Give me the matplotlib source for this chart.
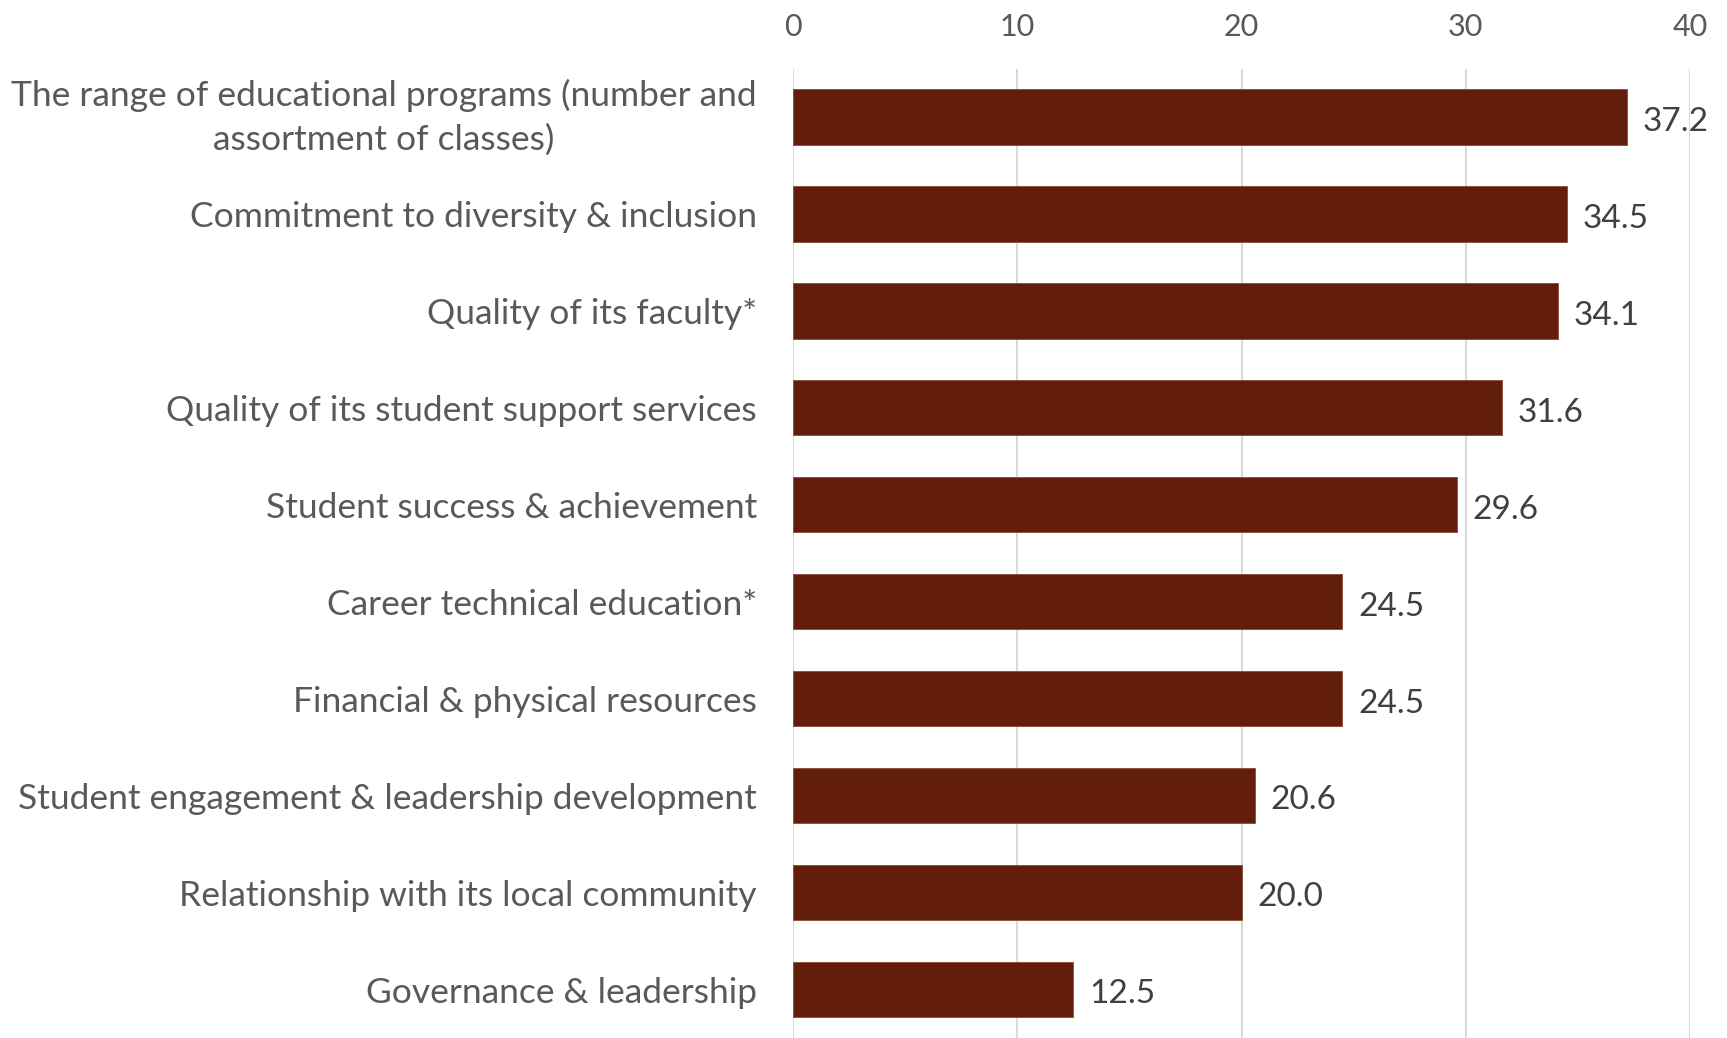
import matplotlib.pyplot as plt

categories = [
    "The range of educational programs (number and\nassortment of classes)",
    "Commitment to diversity & inclusion",
    "Quality of its faculty*",
    "Quality of its student support services",
    "Student success & achievement",
    "Career technical education*",
    "Financial & physical resources",
    "Student engagement & leadership development",
    "Relationship with its local community",
    "Governance & leadership",
]
values = [37.2, 34.5, 34.1, 31.6, 29.6, 24.5, 24.5, 20.6, 20.0, 12.5]
xticks = [0, 10, 20, 30, 40]

bar_color = "#621E0B"
label_color = "#595959"

plt.rcParams["font.family"] = ["Lato", "DejaVu Sans"]

fig = plt.figure(figsize=(17.27, 10.38), dpi=100)
ax = fig.add_axes([793 / 1727, 0.0, (1690 - 793) / 1727, 1 - 68.5 / 1038])

y = list(range(len(categories)))
ax.barh(y, values, height=0.57, color=bar_color, edgecolor="#8a4a3a", linewidth=0.6, zorder=3)

for yi, v in zip(y, values):
    ax.text(v + 0.7, yi + 0.05, f"{v:.1f}", va="center", ha="left",
            fontsize=24, color="#404040")

ax.set_xlim(0, 40)
ax.set_ylim(len(categories) - 0.5, -0.5)
ax.set_xticks(xticks)
ax.xaxis.tick_top()
ax.tick_params(axis="x", length=0, pad=20, labelsize=22, labelcolor=label_color)
ax.set_yticks(y)
ax.set_yticklabels(categories, fontsize=25.5, color=label_color, linespacing=1.45)
ax.tick_params(axis="y", length=0, pad=26)
for lbl in ax.get_yticklabels():
    lbl.set_multialignment("center")
    if "\n" in lbl.get_text():
        lbl.set_verticalalignment("center")

ax.grid(axis="x", color="#D9D9D9", linewidth=1.5, zorder=0)
for s in ax.spines.values():
    s.set_visible(False)

fig.savefig("out.png", dpi=100)
